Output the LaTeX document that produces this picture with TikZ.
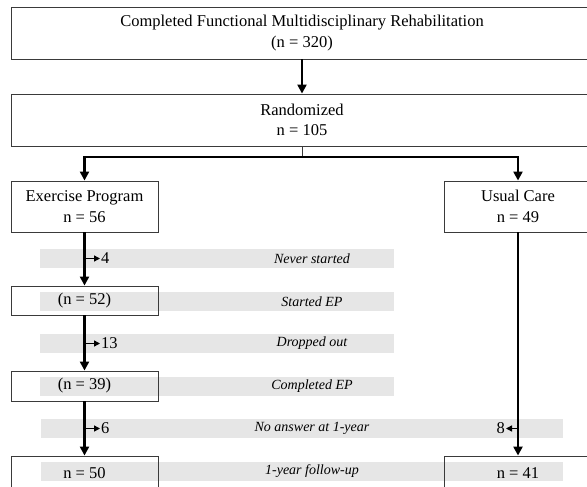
\documentclass[tikz,border=0pt]{standalone}
\usepackage{fontspec}
\setmainfont{Liberation Serif}
\usetikzlibrary{arrows.meta}
\definecolor{bandgray}{HTML}{E6E6E6}
\definecolor{boxline}{HTML}{3A3A3A}
\begin{document}
\begin{tikzpicture}[x=1pt,y=-1pt,
  box/.style={draw=boxline, line width=0.9pt, inner sep=0pt, align=center,
    font=\fontsize{16.5}{20.5}\selectfont},
  bandtext/.style={inner sep=0pt, font=\fontsize{14}{16}\selectfont\itshape},
  num/.style={inner sep=1pt, font=\fontsize{16.5}{20}\selectfont},
  flow/.style={line width=2.4pt, -{Triangle[length=9pt,width=9pt]}},
  side/.style={line width=1.6pt, -{Triangle[length=6pt,width=6pt]}},
  joinline/.style={line width=2.4pt}]
\useasboundingbox (0,0) rectangle (587,487);
\clip (0,0) rectangle (587,487);
\fill[white] (0,0) rectangle (587,487);
% grey bands
\fill[bandgray] (40,249) rectangle (394,268);
\fill[bandgray] (40,292) rectangle (394,311);
\fill[bandgray] (40,334) rectangle (394,353);
\fill[bandgray] (40,377) rectangle (394,396);
\fill[bandgray] (41,419) rectangle (563,438);
\fill[bandgray] (41,462) rectangle (563,481);
% band texts
\node[bandtext] (t1) at (312,258.5) {Never started};
\node[bandtext] (t2) at (312,301.5) {Started EP};
\node[bandtext] (t3) at (312,343.5) {Dropped out};
\node[bandtext] (t4) at (312,386.5) {Completed EP};
\node[bandtext] (t5) at (312,428.5) {No answer at 1-year};
\node[bandtext] (t6) at (312,471.5) {1-year follow-up};
% boxes
\node[box, minimum width=582pt, minimum height=52pt] (top) at (302,33)
  {Completed Functional Multidisciplinary Rehabilitation\\(n = 320)};
\node[box, minimum width=582pt, minimum height=52pt] (rand) at (302,120)
  {Randomized\\n = 105};
\node[box, minimum width=147pt, minimum height=51pt] (ex) at (84.5,206.5)
  {Exercise Program\\n = 56};
\node[box, minimum width=148pt, minimum height=51pt] (uc) at (518,206.5)
  {Usual Care\\n = 49};
\node[box, minimum width=147pt, minimum height=29pt] (st) at (84.5,300.5) {(n = 52)};
\node[box, minimum width=147pt, minimum height=30pt] (co) at (84.5,386) {(n = 39)};
\node[box, minimum width=147pt, minimum height=34pt] (fl) at (84.5,473) {n = 50};
\node[box, minimum width=148pt, minimum height=34pt] (fr) at (518,473) {n = 41};
% main flow
\draw[flow] (top.south) -- (rand.north);
\coordinate (split) at (302,157);
\coordinate (sl) at (84.5,157);
\coordinate (sr) at (518,157);
\draw[line width=0.9pt, draw=boxline] (rand.south) -- (split);
\draw[joinline] ([xshift=-1.2pt]sl) -- ([xshift=1.2pt]sr);
\draw[flow] (sl) -- (ex.north);
\draw[flow] (sr) -- (uc.north);
\draw[flow] (ex.south) -- (st.north);
\draw[flow] (st.south) -- (co.north);
\draw[flow] (co.south) -- (fl.north);
\draw[flow] (uc.south) -- (fr.north);
% side exits
\coordinate (a4) at (84.5,258.5);
\node[num, anchor=west] (n4) at (100,258.5) {4};
\draw[side] (a4) -- (n4.west);
\coordinate (a13) at (84.5,343.5);
\node[num, anchor=west] (n13) at (100,343.5) {13};
\draw[side] (a13) -- (n13.west);
\coordinate (a6) at (84.5,428.5);
\node[num, anchor=west] (n6) at (100,428.5) {6};
\draw[side] (a6) -- (n6.west);
\coordinate (a8) at (518,428.5);
\node[num, anchor=east] (n8) at (506,428.5) {8};
\draw[side] (a8) -- (n8.east);
\end{tikzpicture}
\end{document}
